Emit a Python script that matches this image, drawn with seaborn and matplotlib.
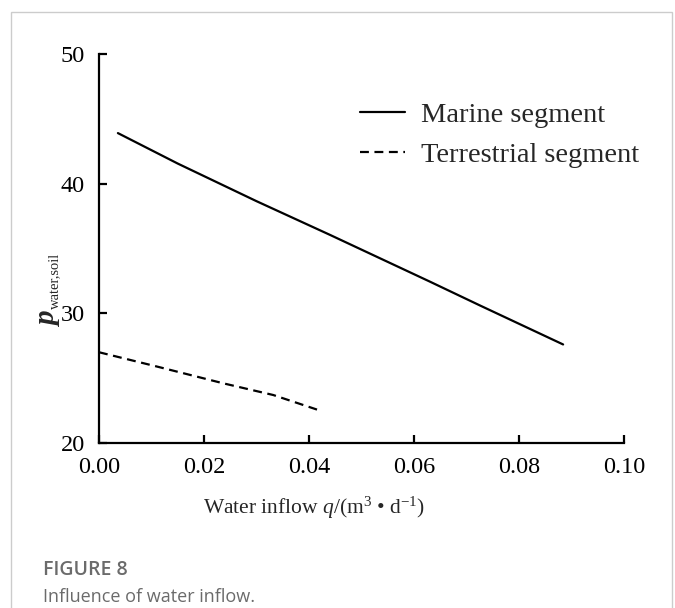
import matplotlib
matplotlib.use("Agg")
import matplotlib.pyplot as plt
import seaborn as sns
import pandas as pd
from matplotlib.patches import Rectangle

# ---- data ----
marine_q = [0.0036, 0.015, 0.030, 0.044, 0.063, 0.0726, 0.0884]
marine_p = [43.9, 41.55, 38.65, 36.05, 32.45, 30.6, 27.6]
terr_q = [0.0, 0.011, 0.0237, 0.0332, 0.0421]
terr_p = [27.0, 25.9, 24.6, 23.7, 22.5]
series_names = ["Marine segment", "Terrestrial segment"]
x_ticks = [0.00, 0.02, 0.04, 0.06, 0.08, 0.10]
y_ticks = [20, 30, 40, 50]

df = pd.DataFrame({
    "q": marine_q + terr_q,
    "p": marine_p + terr_p,
    "segment": [series_names[0]] * len(marine_q) + [series_names[1]] * len(terr_q),
})

sns.set_style("ticks")
plt.rcParams["font.family"] = ["Liberation Serif", "DejaVu Serif"]
plt.rcParams["mathtext.fontset"] = "custom"
plt.rcParams["mathtext.rm"] = "Liberation Serif"
plt.rcParams["mathtext.it"] = "Liberation Serif:italic"
plt.rcParams["mathtext.bf"] = "Liberation Serif:bold:italic"

W, H = 675, 608
fig = plt.figure(figsize=(6.75, 6.08), dpi=100)
ax = fig.add_axes([99 / W, 1 - 443 / H, 525 / W, 389 / H])

sns.lineplot(
    data=df, x="q", y="p", hue="segment", style="segment",
    palette={series_names[0]: "black", series_names[1]: "black"},
    dashes={series_names[0]: "", series_names[1]: (4, 2.5)},
    linewidth=1.6, ax=ax, sort=False, estimator=None,
)

ax.set_xlim(0, 0.10)
ax.set_ylim(20, 50)
ax.set_xticks(x_ticks)
ax.set_xticklabels([f"{v:.2f}" for v in x_ticks])
ax.set_yticks(y_ticks)
ax.set_yticklabels([str(v) for v in y_ticks])
for s in ["top", "right"]:
    ax.spines[s].set_visible(False)
for s in ["left", "bottom"]:
    ax.spines[s].set_linewidth(1.6)
    ax.spines[s].set_color("black")
ax.tick_params(axis="both", direction="in", length=6, width=1.6, colors="black",
               labelsize=17.5)
ax.tick_params(axis="x", pad=10)
ax.tick_params(axis="y", pad=10)

ax.set_xlabel(r"Water inflow $q$/(m$^{3}$ • d$^{-1}$)", fontsize=15.5)
ax.xaxis.set_label_coords(0.41, -0.133)
ax.set_ylabel("")

# y-axis label: large bold-italic p with a small subscript
fig.text(54 / W, 1 - 327 / H, r"$\mathbf{p}$", fontsize=21, rotation=90,
         rotation_mode="anchor", ha="left", va="baseline")
fig.text(58 / W, 1 - 309 / H, "water,soil", fontsize=10.5, rotation=90,
         rotation_mode="anchor", ha="left", va="baseline")

handles, labels = ax.get_legend_handles_labels()
leg = ax.legend(handles, labels, loc="upper left", bbox_to_anchor=(0.497, 0.876),
                frameon=False, fontsize=20.5, handlelength=1.58, handletextpad=0.56,
                labelspacing=0.5, borderpad=0, borderaxespad=0)
for h in leg.get_lines():
    h.set_linewidth(1.6)

# figure frame and caption
fig.patches.append(Rectangle((11 / W, -0.05), (672 - 11) / W, 1.05 - 12.5 / H,
                             transform=fig.transFigure, fill=False,
                             edgecolor="#cccccc", linewidth=1.0))
fig.text(43 / W, 1 - 570 / H, "FIGURE 8", fontsize=14, color="#6b6b6b",
         family=["Open Sans", "DejaVu Sans"], fontweight="semibold", va="center")
fig.text(43 / W, 1 - 597 / H, "Influence of water inflow.", fontsize=13,
         color="#6b6b6b", family=["Open Sans", "DejaVu Sans"], va="center")

fig.savefig("out.png", dpi=100)
